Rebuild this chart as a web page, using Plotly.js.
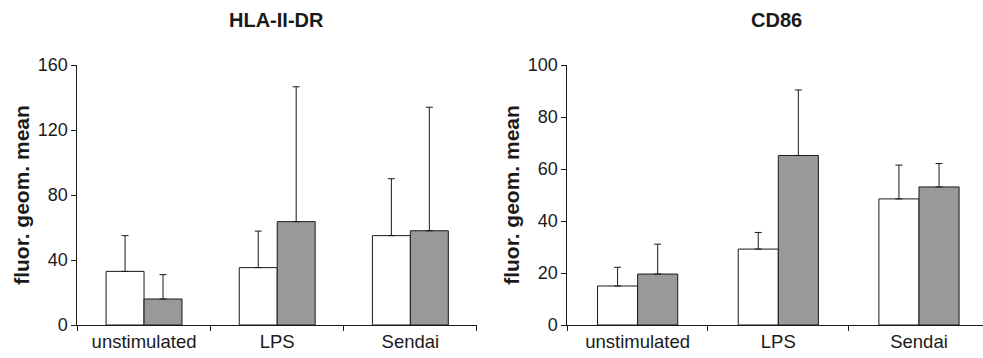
<!DOCTYPE html>
<html>
<head>
<meta charset="utf-8">
<script src="https://cdn.plot.ly/plotly-3.0.1.min.js"></script>
<style>html,body{margin:0;padding:0;background:#fff}#chart{width:983px;height:358px}</style>
</head>
<body>
<div id="chart"></div>
<script>
// Categories
const categories = ["unstimulated", "LPS", "Sendai"];

// HLA-II-DR panel
const hlaWhite = [33, 35.3, 55];
const hlaWhiteErr = [22, 22.5, 35];
const hlaGrey = [16, 63.6, 58];
const hlaGreyErr = [15, 83, 76];

// CD86 panel
const cd86White = [15, 29.2, 48.5];
const cd86WhiteErr = [7.2, 6.4, 13];
const cd86Grey = [19.6, 65.2, 53.1];
const cd86GreyErr = [11.5, 25.2, 9];

const panelTitles = ["HLA-II-DR", "CD86"];
const yTitle = "fluor. geom. mean";

const FONT = "Liberation Sans, Arial, sans-serif";
const INK = "#1a1a1a";

function zeros(a){ return a.map(() => 0); }
function barTrace(y, err, fill, xa, ya, name){
  return {
    type: "bar", x: categories, y: y, name: name,
    xaxis: xa, yaxis: ya,
    marker: {color: fill, line: {color: INK, width: 1}},
    error_y: {type: "data", symmetric: false, array: err, arrayminus: zeros(err),
              color: INK, thickness: 1, width: 3.5},
    hoverinfo: "x+y", showlegend: false
  };
}

const data = [
  barTrace(hlaWhite, hlaWhiteErr, "#ffffff", "x", "y", "white"),
  barTrace(hlaGrey, hlaGreyErr, "#999999", "x", "y", "grey"),
  barTrace(cd86White, cd86WhiteErr, "#ffffff", "x2", "y2", "white"),
  barTrace(cd86Grey, cd86GreyErr, "#999999", "x2", "y2", "grey")
];

function xAxis(domain, range, anchor){
  return {
    domain: domain, anchor: anchor, type: "category", range: range,
    showline: true, linecolor: INK, linewidth: 1,
    ticks: "outside", tickson: "boundaries", ticklen: 5, tickcolor: INK, tickwidth: 1,
    showgrid: false, zeroline: false,
    tickfont: {family: FONT, size: 18.5, color: INK}
  };
}
function yAxis(range, dtick, anchor){
  return {
    anchor: anchor, range: range, dtick: dtick, tick0: 0,
    showline: true, linecolor: INK, linewidth: 1,
    ticks: "outside", ticklen: 5, tickcolor: INK, tickwidth: 1,
    showgrid: false, zeroline: false,
    tickfont: {family: FONT, size: 18, color: INK},
    title: {text: "<b>" + yTitle + "</b>", font: {family: FONT, size: 21, color: INK}, standoff: 2}
  };
}

const layout = {
  width: 983, height: 358,
  margin: {l: 0, r: 0, t: 65, b: 33},
  paper_bgcolor: "#ffffff", plot_bgcolor: "#ffffff",
  barmode: "group", bargap: 0.43, bargroupgap: 0,
  font: {family: FONT, color: INK},
  xaxis: xAxis([0.0788, 0.4852], [-0.5, 2.5], "y"),
  yaxis: yAxis([0, 160], 40, "x"),
  xaxis2: xAxis([0.5771, 1.0], [-0.5, 2.455], "y2"),
  yaxis2: yAxis([0, 100], 20, "x2"),
  annotations: [
    {text: "<b>" + panelTitles[0] + "</b>", xref: "paper", yref: "paper", x: 0.2808, y: 1.173,
     xanchor: "center", yanchor: "middle", showarrow: false, font: {family: FONT, size: 20, color: INK}},
    {text: "<b>" + panelTitles[1] + "</b>", xref: "paper", yref: "paper", x: 0.7904, y: 1.173,
     xanchor: "center", yanchor: "middle", showarrow: false, font: {family: FONT, size: 20, color: INK}}
  ]
};

Plotly.newPlot("chart", data, layout, {displayModeBar: false, staticPlot: true});
</script>
</body>
</html>
